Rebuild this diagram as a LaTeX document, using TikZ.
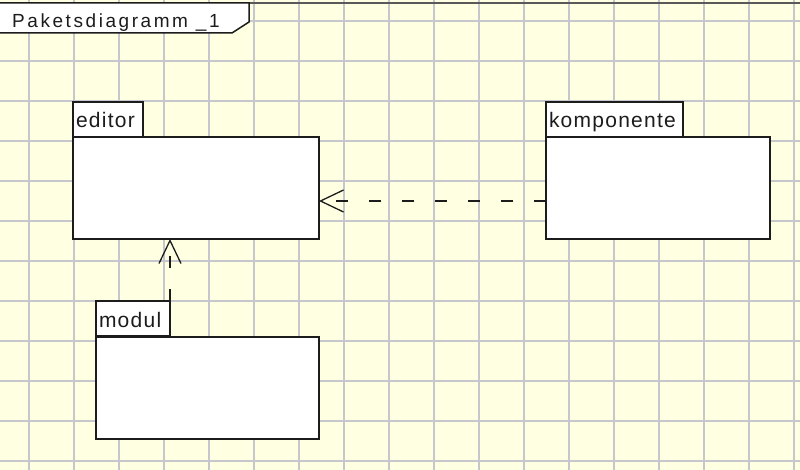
\documentclass[tikz,border=0pt]{standalone}
\usepackage{fontspec}
\usetikzlibrary{arrows.meta}
\newfontfamily\pkgfont{Liberation Sans}[LetterSpace=6]
\newfontfamily\framefont{Liberation Sans}[LetterSpace=13.5]
\definecolor{paper}{RGB}{255,255,226}
\definecolor{gridline}{RGB}{198,198,205}
\definecolor{ink}{RGB}{28,28,28}
\tikzset{
  pkgbody/.style={draw=ink, line width=1.8pt, fill=white, anchor=north west,
    inner sep=0pt, outer sep=0pt},
  pkgtab/.style={draw=ink, line width=1.8pt, fill=white, anchor=north west,
    inner xsep=3pt, inner ysep=0pt, outer sep=0pt, align=left,
    text height=26pt, text depth=9pt, text=ink,
    font=\pkgfont\fontsize{21}{24}\selectfont},
  dep/.style={draw=ink, line width=1.3pt, dash pattern=on 12pt off 21pt,
    -{Straight Barb[length=23pt, width=22pt, line width=1.3pt]}},
}
\begin{document}
\begin{tikzpicture}[x=1pt, y=-1pt]
  \useasboundingbox (0,0) rectangle (800,470);
  % squared paper
  \fill[paper] (0,0) rectangle (800,470);
  \foreach \gx in {0,...,17} \draw[gridline, line width=1.9pt] (29+45*\gx, 0) -- (29+45*\gx, 470);
  \foreach \gy in {0,...,11} \draw[gridline, line width=1.9pt] (0, 21+40*\gy) -- (800, 21+40*\gy);
  % diagram frame with its name tab
  \draw[gray!70!black, line width=1.5pt] (0,3) -- (800,3);
  \filldraw[fill=white, draw=ink, line width=1.5pt]
    (-2,3) -- (249,3) -- (249,22) -- (232,33) -- (-2,33) -- cycle;
  \node[anchor=base west, inner sep=0pt, text=ink,
        font=\framefont\fontsize{19}{22}\selectfont] (title) at (12,27.5) {Paketsdiagramm \_1};

  % package: editor
  \node[pkgtab, minimum width=70pt, text width=64pt] (editortab) at (73,102) {editor};
  \node[pkgbody, minimum width=246pt, minimum height=102pt] (editor) at (73,137) {};

  % package: komponente
  \node[pkgtab, minimum width=137pt, text width=131pt] (komponentetab) at (546,102) {komponente};
  \node[pkgbody, minimum width=224pt, minimum height=102pt] (komponente) at (546,137) {};

  % package: modul
  \node[pkgtab, minimum width=74pt, text width=68pt] (modultab) at (96,301) {modul};
  \node[pkgbody, minimum width=223pt, minimum height=102pt] (modul) at (96,337) {};

  % dependencies
  \draw[dep] ([yshift=-13pt]komponente.west) -- ([yshift=-13pt]editor.east);
  \draw[dep] (modultab.north east) -- (editor.south -| modultab.north east);
\end{tikzpicture}
\end{document}
